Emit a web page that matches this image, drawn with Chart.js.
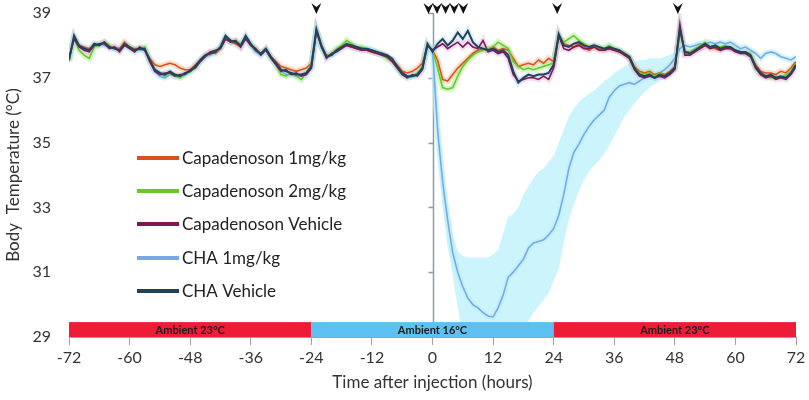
<!DOCTYPE html>
<html>
<head>
<meta charset="utf-8">
<script src="https://cdn.jsdelivr.net/npm/chart.js@4.4.1/dist/chart.umd.min.js"></script>
<style>
  html, body { margin: 0; padding: 0; background: #fff; }
  #wrap { width: 809px; height: 400px; }
</style>
</head>
<body>
<div id="wrap"><canvas id="tempChart"></canvas></div>
<script>
// one reading per hour, -72 .. 72
const hours = [];
for (let h = -72; h <= 72; h++) hours.push(h);

const xTickValues = [-72, -60, -48, -36, -24, -12, 0, 12, 24, 36, 48, 60, 72];
const yTickValues = [29, 31, 33, 35, 37, 39];

const seriesNames = ['Capadenoson 1mg/kg', 'Capadenoson 2mg/kg', 'Capadenoson Vehicle', 'CHA 1mg/kg', 'CHA Vehicle'];

const capa1 = [
  37.6, 38.25, 38.0, 37.95, 37.9, 38.0, 38.05, 38.1, 37.95, 37.95, 37.9, 38.1,
  37.95, 37.9, 37.9, 37.85, 37.6, 37.4, 37.35, 37.4, 37.45, 37.4, 37.3, 37.25,
  37.25, 37.4, 37.55, 37.7, 37.8, 37.75, 37.9, 38.2, 38.1, 38.05, 37.95, 38.25,
  38.0, 37.85, 37.75, 37.9, 37.65, 37.5, 37.35, 37.3, 37.25, 37.2, 37.25, 37.3,
  37.45, 38.45, 37.95, 37.7, 37.7, 37.85, 37.95, 38.0, 37.95, 37.9, 37.85, 37.85,
  37.8, 37.75, 37.75, 37.65, 37.55, 37.4, 37.2, 37.15, 37.2, 37.3, 37.45, 38.0,
  37.85, 37.55, 36.95, 36.9, 37.1, 37.3, 37.45, 37.6, 37.75, 37.85, 37.9, 37.85,
  37.95, 37.85, 37.9, 37.85, 37.6, 37.35, 37.4, 37.45, 37.4, 37.55, 37.45, 37.6,
  37.5, 38.25, 38.05, 38.0, 37.95, 38.05, 37.95, 37.85, 37.95, 37.9, 37.85, 37.9,
  37.85, 37.8, 37.75, 37.6, 37.35, 37.2, 37.15, 37.2, 37.1, 37.15, 37.1, 37.2,
  37.35, 38.45, 37.8, 37.8, 37.85, 37.9, 38.0, 37.95, 37.9, 37.85, 37.95, 37.9,
  37.85, 37.8, 37.75, 37.7, 37.4, 37.2, 37.15, 37.15, 37.1, 37.2, 37.15, 37.3,
  37.5
];

const capa2 = [
  37.5, 38.2, 37.85, 37.7, 37.6, 37.95, 38.0, 38.1, 38.0, 37.9, 37.85, 38.05,
  37.95, 37.85, 37.9, 37.95, 37.5, 37.25, 37.1, 37.05, 37.15, 37.05, 37.0, 37.1,
  37.2, 37.3, 37.5, 37.7, 37.75, 37.8, 37.95, 38.25, 38.1, 38.15, 38.05, 38.2,
  38.05, 37.9, 37.75, 37.85, 37.6, 37.4, 37.1, 37.05, 37.15, 37.05, 36.95, 37.15,
  37.4, 38.45, 38.0, 37.65, 37.75, 37.9, 38.0, 38.15, 38.05, 37.95, 37.95, 37.9,
  37.85, 37.8, 37.7, 37.6, 37.5, 37.3, 37.1, 37.0, 37.05, 37.15, 37.35, 38.0,
  37.85, 37.3, 36.7, 36.65, 36.7, 37.05, 37.35, 37.55, 37.7, 37.8, 37.85, 37.9,
  37.95, 38.1, 38.0, 37.9, 37.5, 37.35, 37.25, 37.3, 37.25, 37.3, 37.35, 37.4,
  37.45, 38.3, 38.1, 38.2, 38.3, 38.15, 38.05, 37.95, 38.0, 37.95, 37.9, 38.0,
  37.9, 37.85, 37.75, 37.65, 37.3, 37.15, 37.1, 37.15, 37.05, 37.15, 37.05, 37.15,
  37.3, 38.45, 37.75, 37.8, 37.9, 38.0, 38.1, 37.95, 38.0, 37.95, 38.0, 37.95,
  37.85, 37.8, 37.8, 37.75, 37.3, 37.1, 37.05, 37.0, 37.05, 37.0, 37.1, 37.2,
  37.45
];

const capaVeh = [
  37.6, 38.2, 37.95, 37.85, 37.8, 38.0, 38.05, 38.05, 37.9, 37.95, 37.8, 38.0,
  37.9, 37.8, 37.95, 37.85, 37.5, 37.2, 37.1, 37.15, 37.15, 37.05, 37.1, 37.1,
  37.25, 37.3, 37.5, 37.65, 37.8, 37.85, 37.9, 38.2, 38.1, 38.15, 37.95, 38.2,
  38.0, 37.9, 37.7, 37.85, 37.6, 37.4, 37.2, 37.25, 37.1, 37.15, 37.05, 37.1,
  37.3, 38.45, 37.95, 37.6, 37.75, 37.8, 37.9, 38.0, 37.95, 37.9, 37.85, 37.85,
  37.8, 37.75, 37.7, 37.65, 37.5, 37.3, 37.1, 37.0, 37.1, 37.05, 37.25, 38.0,
  37.85, 37.95, 38.05, 37.9, 38.0, 38.1, 37.95, 38.1, 37.95, 37.9, 38.15, 37.8,
  37.85, 37.75, 37.8, 37.6, 37.1, 36.9, 36.95, 37.0, 37.0, 36.95, 37.05, 36.95,
  37.3, 38.3, 37.9, 37.85, 37.95, 38.0, 37.9, 37.9, 37.95, 37.85, 37.85, 37.9,
  37.85, 37.8, 37.7, 37.6, 37.25, 37.05, 37.0, 37.05, 37.0, 37.05, 37.0, 37.1,
  37.25, 38.65, 37.7, 37.7, 37.8, 37.9, 38.0, 37.9, 37.95, 37.85, 37.9, 37.9,
  37.8, 37.75, 37.75, 37.65, 37.3, 37.1, 37.0, 37.05, 36.95, 37.0, 36.95, 37.1,
  37.35
];

const cha1 = [
  37.6, 38.2, 38.0, 37.9, 37.9, 38.0, 38.05, 38.0, 37.95, 37.9, 37.9, 38.0,
  37.9, 37.85, 37.85, 37.85, 37.55, 37.2, 37.05, 37.0, 37.1, 37.05, 37.05, 37.1,
  37.2, 37.35, 37.5, 37.65, 37.7, 37.8, 37.9, 38.2, 38.15, 38.05, 38.0, 38.25,
  38.0, 37.8, 37.7, 37.85, 37.6, 37.4, 37.2, 37.1, 37.1, 37.05, 37.05, 37.1,
  37.3, 38.4, 37.95, 37.65, 37.7, 37.8, 37.95, 38.0, 37.95, 37.95, 37.85, 37.9,
  37.85, 37.8, 37.7, 37.65, 37.55, 37.3, 37.15, 37.0, 37.05, 37.1, 37.25, 37.95,
  37.9, 35.4, 33.8, 32.6, 31.6, 31.0, 30.55, 30.2, 30.0, 29.9, 29.75, 29.65,
  29.62, 29.9, 30.3, 30.85, 31.0, 31.2, 31.4, 31.75, 31.9, 31.95, 32.0, 32.15,
  32.35, 32.75, 33.4, 34.2, 34.7, 34.95, 35.25, 35.5, 35.7, 35.85, 36.0, 36.4,
  36.6, 36.75, 36.8, 36.85, 36.8, 36.9, 37.0, 37.05, 37.1, 37.15, 37.25, 37.4,
  37.6, 37.9, 38.0, 37.95, 38.0, 38.05, 38.05, 38.1, 38.05, 38.1, 38.05, 38.1,
  38.0, 37.9, 37.95, 37.85, 37.75, 37.6, 37.75, 37.8, 37.75, 37.65, 37.6, 37.55,
  37.65
];

const chaVeh = [
  37.55, 38.3, 38.0, 37.9, 37.85, 38.05, 38.0, 38.1, 37.95, 37.9, 37.85, 38.05,
  37.95, 37.85, 37.9, 37.9, 37.55, 37.25, 37.15, 37.1, 37.2, 37.1, 37.05, 37.15,
  37.2, 37.35, 37.55, 37.7, 37.75, 37.8, 37.95, 38.3, 38.15, 38.1, 38.0, 38.3,
  38.05, 37.85, 37.75, 37.9, 37.65, 37.45, 37.25, 37.2, 37.15, 37.1, 37.1, 37.15,
  37.35, 38.5, 38.0, 37.65, 37.7, 37.85, 37.95, 38.05, 38.0, 37.95, 37.9, 37.9,
  37.85, 37.8, 37.75, 37.7, 37.6, 37.35, 37.15, 37.05, 37.05, 37.1, 37.3, 38.05,
  37.8, 38.05, 38.2, 38.0, 38.15, 38.4, 38.2, 38.45, 38.1, 37.95, 37.9, 37.85,
  37.9, 37.8, 37.85, 37.7, 37.2, 36.85, 37.0, 37.1, 37.05, 37.1, 37.1, 37.15,
  37.4, 38.35, 38.0, 37.95, 38.05, 38.1, 38.0, 37.95, 38.0, 37.95, 37.9, 37.95,
  37.9, 37.85, 37.75, 37.65, 37.3, 37.1, 37.05, 37.1, 37.0, 37.1, 37.05, 37.15,
  37.3, 38.5, 37.8, 37.75, 37.85, 37.95, 38.05, 37.95, 38.0, 37.9, 37.95, 37.95,
  37.85, 37.8, 37.8, 37.7, 37.35, 37.15, 37.05, 37.1, 37.0, 37.05, 37.0, 37.15,
  37.4
];

// CHA 1mg/kg spread, hours 0 .. 48
const bandHours = hours.filter(h => h >= 0 && h <= 48);
const chaUpper = [
  38.1, 36.3, 34.4, 33.2, 32.2, 31.65, 31.5, 31.45, 31.45, 31.45, 31.45, 31.45,
  31.55, 31.7, 32.2, 32.7, 32.8, 33.0, 33.4, 33.65, 33.9, 34.1, 34.2, 34.4,
  34.6, 35.0, 35.4, 35.8, 36.05, 36.25, 36.4, 36.5, 36.6, 36.75, 36.9, 37.0,
  37.15, 37.25, 37.35, 37.45, 37.5, 37.55, 37.55, 37.6, 37.6, 37.6, 37.65, 37.7,
  37.8
];
const chaLower = [
  37.7, 34.8, 33.0, 31.8, 30.9, 29.9, 29.0, 28.4, 28.1, 27.9, 27.8, 27.8,
  27.8, 28.0, 28.3, 28.6, 28.8, 29.0, 29.3, 29.5, 29.75, 29.95, 30.15, 30.35,
  30.75, 31.1, 31.9, 32.6, 33.1, 33.5, 33.85, 34.1, 34.3, 34.45, 34.65, 34.9,
  35.2, 35.5, 35.8, 36.0, 36.2, 36.4, 36.55, 36.7, 36.8, 36.9, 37.0, 37.1,
  37.3
];

// injection markers and ambient temperature periods
const arrowHours = [-23, -0.8, 0.9, 2.6, 4.3, 6.1, 24.7, 48.6];
const ambientFrom = [-72, -24, 24];
const ambientTo = [-24, 24, 72];
const ambientLabels = ['Ambient 23°C', 'Ambient 16°C', 'Ambient 23°C'];

const lineColors = ['#d9521d', '#66c92a', '#7b1a52', '#78a8e6', '#23405c'];
const haloColors = ['rgba(246,170,130,0.4)', 'rgba(160,235,120,0.45)', 'rgba(232,140,220,0.3)',
                    'rgba(190,240,252,0.7)', 'rgba(160,210,235,0.35)'];
const allSeries = [capa1, capa2, capaVeh, cha1, chaVeh];

function pts(xs, ys) { return xs.map((h, i) => ({ x: h, y: ys[i] })); }

const datasets = [
  { data: pts(bandHours, chaUpper), borderWidth: 0, pointRadius: 0, fill: false, order: 30 },
  { data: pts(bandHours, chaLower), borderWidth: 0, pointRadius: 0, fill: 0,
    backgroundColor: 'rgb(204,244,253)', order: 30 }
];
allSeries.forEach((vals, i) => {
  datasets.push({ data: pts(hours, vals), borderColor: haloColors[i], borderWidth: 6,
    pointRadius: 0, tension: 0, fill: false, order: 20 - i });
});
const lineOrder = [4, 3, 2, 5, 1];
allSeries.forEach((vals, i) => {
  datasets.push({ label: seriesNames[i], data: pts(hours, vals), borderColor: lineColors[i],
    borderWidth: i === 4 ? 2 : 1.6, pointRadius: 0, tension: 0, fill: false, order: lineOrder[i] });
});

const zeroAxis = {
  id: 'zeroAxis',
  beforeDatasetsDraw(chart) {
    const { ctx, scales: { x, y } } = chart;
    const px = Math.round(x.getPixelForValue(0)) + 0.5;
    ctx.save();
    ctx.strokeStyle = '#8f9ba8';
    ctx.lineWidth = 1.5;
    ctx.beginPath();
    ctx.moveTo(px, y.getPixelForValue(39));
    ctx.lineTo(px, y.getPixelForValue(29));
    yTickValues.forEach(v => {
      if (v > 29) {
        const py = Math.round(y.getPixelForValue(v)) + 0.5;
        ctx.moveTo(px - 5, py);
        ctx.lineTo(px, py);
      }
    });
    ctx.stroke();
    ctx.restore();
  }
};

const extras = {
  id: 'extras',
  afterDatasetsDraw(chart) {
    const { ctx, scales: { x, y } } = chart;
    ctx.save();
    // ambient strip
    const top = y.getPixelForValue(29.46), bot = y.getPixelForValue(29);
    ambientLabels.forEach((lab, i) => {
      const x0 = x.getPixelForValue(ambientFrom[i]), x1 = x.getPixelForValue(ambientTo[i]);
      ctx.fillStyle = lab.includes('16') ? '#5ebff1' : '#ee1d37';
      ctx.fillRect(x0, top, x1 - x0, bot - top);
      ctx.fillStyle = '#1b1b1b';
      ctx.font = 'bold 11px Lato, sans-serif';
      ctx.textAlign = 'center';
      ctx.textBaseline = 'middle';
      ctx.fillText(lab, (x0 + x1) / 2, (top + bot) / 2 + 1);
    });
    // injection arrows
    ctx.fillStyle = '#111';
    arrowHours.forEach(h => {
      const px = x.getPixelForValue(h);
      ctx.beginPath();
      ctx.moveTo(px - 5, 3);
      ctx.lineTo(px, 7);
      ctx.lineTo(px + 5, 3);
      ctx.lineTo(px, 14);
      ctx.closePath();
      ctx.fill();
    });
    // legend
    const rows = [158, 191, 224, 258, 291];
    ctx.font = '17px Lato, sans-serif';
    ctx.textAlign = 'left';
    ctx.textBaseline = 'middle';
    seriesNames.forEach((name, i) => {
      ctx.strokeStyle = lineColors[i];
      ctx.lineWidth = 4;
      ctx.beginPath();
      ctx.moveTo(137, rows[i]);
      ctx.lineTo(179, rows[i]);
      ctx.stroke();
      ctx.fillStyle = '#222';
      ctx.fillText(name, 182, rows[i] + 1);
    });
    ctx.restore();
  }
};

Chart.defaults.font.family = 'Lato, "Open Sans", sans-serif';

new Chart(document.getElementById('tempChart'), {
  type: 'line',
  data: { datasets },
  options: {
    responsive: true,
    maintainAspectRatio: false,
    animation: false,
    layout: { padding: { top: 13, right: 13, left: 0, bottom: 0 } },
    plugins: { legend: { display: false }, tooltip: { enabled: false } },
    scales: {
      x: {
        type: 'linear', min: -72, max: 72,
        afterBuildTicks: s => { s.ticks = xTickValues.map(v => ({ value: v })); },
        afterFit: s => { s.height = 63; s.paddingLeft = 0; s.paddingRight = 0; },
        grid: { display: true, drawOnChartArea: false, drawTicks: true, tickLength: 8, color: '#a0a0a0' },
        border: { display: true, color: '#a0a0a0' },
        ticks: { font: { size: 16 }, color: '#333', padding: 3, maxRotation: 0 },
        title: { display: true, text: 'Time after injection (hours)', font: { size: 17 }, color: '#333',
                 padding: { top: 0, bottom: 7 } }
      },
      y: {
        min: 29, max: 39,
        afterBuildTicks: s => { s.ticks = yTickValues.map(v => ({ value: v })); },
        afterFit: s => { s.width = 69; s.paddingTop = 0; s.paddingBottom = 0; },
        grid: { display: false, drawTicks: false },
        border: { display: false },
        ticks: { font: { size: 16 }, color: '#333', padding: 18 },
        title: { display: true, text: 'Body  Temperature (°C)', font: { size: 17 }, color: '#333',
                 padding: { top: 3, bottom: 0 } }
      }
    }
  },
  plugins: [zeroAxis, extras]
});
</script>
</body>
</html>
